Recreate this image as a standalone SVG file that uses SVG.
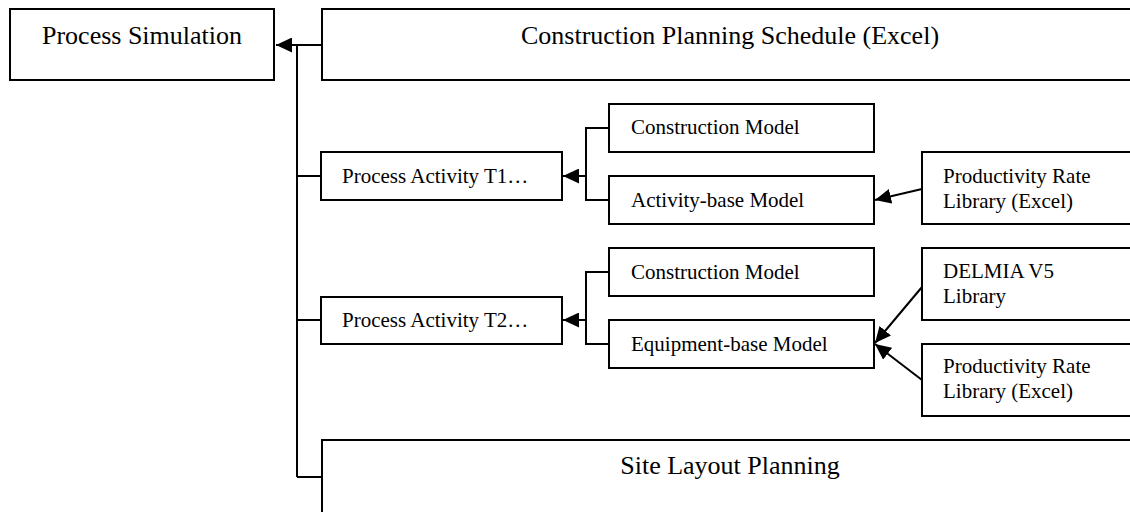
<svg xmlns="http://www.w3.org/2000/svg" width="1130" height="512" viewBox="0 0 1130 512">
<style>
  .box{fill:#fff;stroke:#000;stroke-width:2}
  .big{font-family:"Liberation Serif","Times New Roman",serif;font-size:26px;fill:#000}
  .sm{font-family:"Liberation Serif","Times New Roman",serif;font-size:21px;fill:#000}
  .ln{fill:none;stroke:#000;stroke-width:2}
  .arr{fill:none;stroke:#000;stroke-width:2;marker-end:url(#ah)}
</style>
<defs>
  <marker id="ah" markerUnits="userSpaceOnUse" markerWidth="17" markerHeight="15" refX="16" refY="7.5" orient="auto" viewBox="0 0 17 15">
    <path d="M0,0 L16,7.5 L0,15 z" fill="#000"/>
  </marker>
</defs>
<rect width="1130" height="512" fill="#fff"/>
<g id="connectors">
  <path class="arr" d="M322,45 H276"/>
  <path class="ln" d="M297,45 V477"/>
  <path class="ln" d="M297,176 H321"/>
  <path class="ln" d="M297,320 H321"/>
  <path class="ln" d="M297,477 H322"/>
  <path class="ln" d="M609,128 H586 V200 H609"/>
  <path class="arr" d="M586,176 H563"/>
  <path class="ln" d="M609,272 H586 V344 H609"/>
  <path class="arr" d="M586,320 H563"/>
  <path class="arr" d="M922,189 L875,200"/>
  <path class="arr" d="M922,287 L875,343"/>
  <path class="arr" d="M922,380 L875,344"/>
</g>
<g id="process-simulation">
  <rect class="box" x="10" y="9" width="264" height="71"/>
  <text class="big" x="142" y="44" text-anchor="middle">Process Simulation</text>
</g>
<g id="construction-planning-schedule">
  <rect class="box" x="322" y="9" width="820" height="71"/>
  <text class="big" x="730" y="44" text-anchor="middle">Construction Planning Schedule (Excel)</text>
</g>
<g id="process-activity-t1">
  <rect class="box" x="321" y="152" width="241" height="48"/>
  <text class="sm" x="342" y="183">Process Activity T1…</text>
</g>
<g id="construction-model-1">
  <rect class="box" x="609" y="104" width="265" height="48"/>
  <text class="sm" x="631" y="134">Construction Model</text>
</g>
<g id="activity-base-model">
  <rect class="box" x="609" y="176" width="265" height="48"/>
  <text class="sm" x="631" y="207">Activity-base Model</text>
</g>
<g id="productivity-rate-library-1">
  <rect class="box" x="922" y="152" width="220" height="72"/>
  <text class="sm" x="943" y="183">Productivity Rate</text>
  <text class="sm" x="943" y="208">Library (Excel)</text>
</g>
<g id="process-activity-t2">
  <rect class="box" x="321" y="297" width="241" height="47"/>
  <text class="sm" x="342" y="327">Process Activity T2…</text>
</g>
<g id="construction-model-2">
  <rect class="box" x="609" y="248" width="265" height="48"/>
  <text class="sm" x="631" y="279">Construction Model</text>
</g>
<g id="equipment-base-model">
  <rect class="box" x="609" y="320" width="265" height="48"/>
  <text class="sm" x="631" y="351">Equipment-base Model</text>
</g>
<g id="delmia-v5-library">
  <rect class="box" x="922" y="248" width="220" height="72"/>
  <text class="sm" x="943" y="278">DELMIA V5</text>
  <text class="sm" x="943" y="303">Library</text>
</g>
<g id="productivity-rate-library-2">
  <rect class="box" x="922" y="344" width="220" height="72"/>
  <text class="sm" x="943" y="373">Productivity Rate</text>
  <text class="sm" x="943" y="398">Library (Excel)</text>
</g>
<g id="site-layout-planning">
  <rect class="box" x="322" y="440" width="820" height="90"/>
  <text class="big" x="730" y="474" text-anchor="middle">Site Layout Planning</text>
</g>
</svg>
